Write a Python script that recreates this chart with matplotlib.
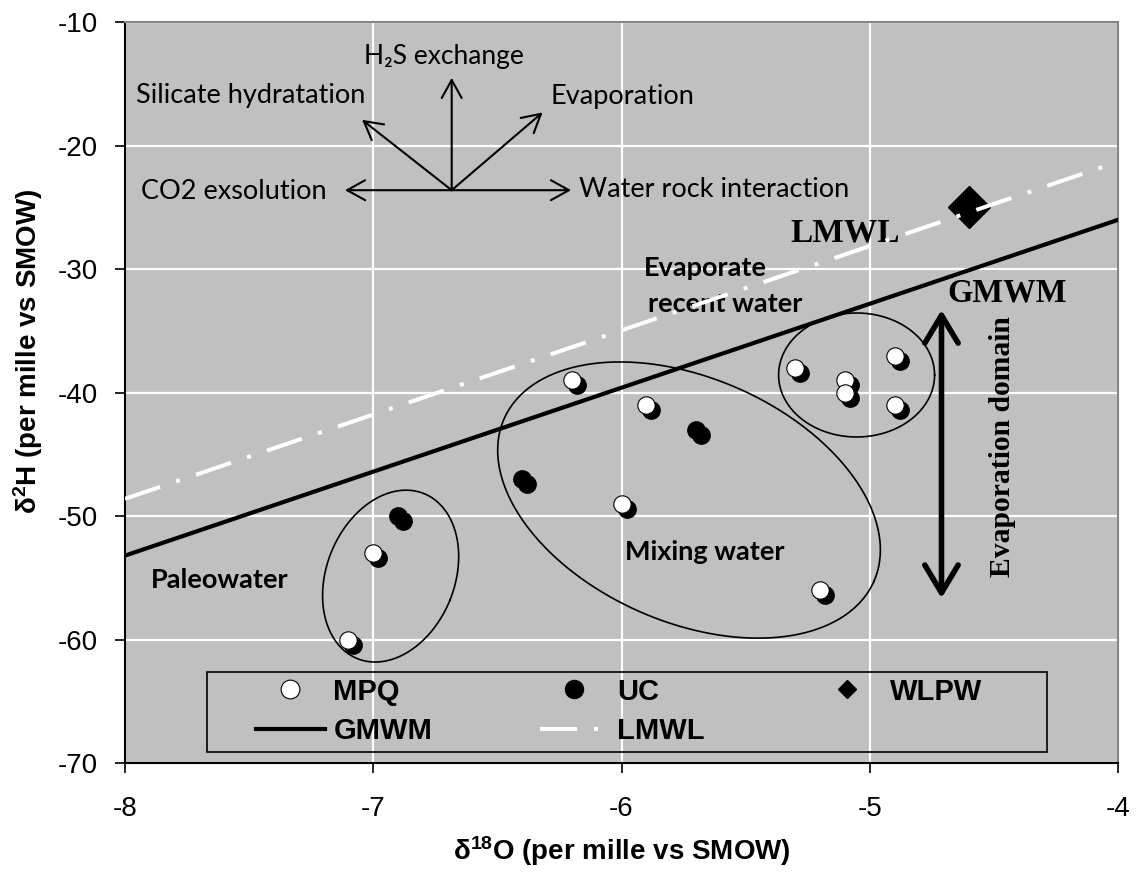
import numpy as np
import matplotlib
matplotlib.use("Agg")
import matplotlib.pyplot as plt
from matplotlib import transforms
from matplotlib.lines import Line2D
from matplotlib.patches import Rectangle, FancyArrowPatch, ArrowStyle

plt.rcParams['font.family'] = ['Liberation Sans', 'DejaVu Sans']
plt.rcParams['axes.unicode_minus'] = False
plt.rcParams['mathtext.default'] = 'regular'

# isotope data (delta 18O, delta 2H)
mpq_x = [-7.1, -7.0, -6.2, -6.0, -5.9, -5.3, -5.2, -5.1, -5.1, -4.9, -4.9]
mpq_y = [-60, -53, -39, -49, -41, -38, -56, -39, -40, -37, -41]
uc_x = [-6.9, -6.4, -5.7]
uc_y = [-50, -47, -43]
wlpw_x = [-4.6]
wlpw_y = [-25]

# meteoric water lines, end points over the plotted range
line_x = [-8, -4]
gmwm_y = [-53.2, -26.0]
lmwl_y = [-48.6, -21.3]

x_ticks = [-8, -7, -6, -5, -4]
y_ticks = [-70, -60, -50, -40, -30, -20, -10]

W, H, DPI = 11.4, 8.74, 100
fig = plt.figure(figsize=(W, H), dpi=DPI)
ax_rect = [125 / 1140, 111 / 874, 993 / 1140, 740.7 / 874]
ax = fig.add_axes(ax_rect)
ax.set_facecolor('#C0C0C0')
ax.set_xlim(-8, -4)
ax.set_ylim(-70, -10)

# pixels per data unit, used to draw the hand-made ellipses
px_x = ax_rect[2] * W * DPI / 4.0
px_y = ax_rect[3] * H * DPI / 60.0

ax.set_xticks(x_ticks)
ax.set_yticks(y_ticks)
ax.grid(True, color='white', lw=1.6)
ax.set_axisbelow(True)
ax.tick_params(axis='both', direction='out', length=7.5, width=1.2,
               labelsize=20, colors='black')
ax.tick_params(axis='x', pad=16)
ax.tick_params(axis='y', pad=12)
for side in ('left', 'bottom'):
    ax.spines[side].set_color('black')
    ax.spines[side].set_linewidth(1.5)
for side in ('top', 'right'):
    ax.spines[side].set_color('#858585')
    ax.spines[side].set_linewidth(1.5)

ax.set_xlabel(r'δ$^{18}$O (per mille vs SMOW)', fontsize=20, fontweight='bold',
              va='center')
ax.set_ylabel(r'δ$^{2}$H (per mille vs SMOW)', fontsize=20, fontweight='bold',
              va='center')
ax.xaxis.set_label_coords(0.5, -0.119)
ax.yaxis.set_label_coords(-0.098, 0.556)

# water lines
ax.plot(line_x, gmwm_y, color='black', lw=3, zorder=3)
ax.plot(line_x, lmwl_y, color='white', lw=2.9, dashes=(9.2, 4.2, 1, 4.2),
        dash_capstyle='butt', zorder=6)

# markers with a dark drop shadow
shadow = transforms.offset_copy(ax.transData, fig=fig, x=5, y=-5, units='dots')
ax.plot(mpq_x, mpq_y, ls='none', marker='o', ms=12.5, color='black',
        transform=shadow, zorder=4)
ax.plot(uc_x, uc_y, ls='none', marker='o', ms=12.5, color='black',
        transform=shadow, zorder=4)
ax.plot(mpq_x, mpq_y, ls='none', marker='o', ms=12.5, mfc='white',
        mec='black', mew=0.8, zorder=5)
ax.plot(uc_x, uc_y, ls='none', marker='o', ms=12.5, color='black', zorder=5)
ax.plot(wlpw_x, wlpw_y, ls='none', marker='D', ms=21, color='black', zorder=5)


def ellipse_xy(cx, cy, a, b, tilt):
    t = np.linspace(0, 2 * np.pi, 300)
    ex, ey = a * np.cos(t), b * np.sin(t)
    c, s = np.cos(np.radians(tilt)), np.sin(np.radians(tilt))
    return cx + (ex * c - ey * s) / px_x, cy + (ex * s + ey * c) / px_y


for cx, cy, a, b, tilt in [(-6.93, -54.86, 64, 89, -22),
                           (-5.728, -48.70, 202, 122, -23.7),
                           (-5.053, -38.57, 78, 62, 0)]:
    ex, ey = ellipse_xy(cx, cy, a, b, tilt)
    ax.plot(ex, ey, color='black', lw=1.2, zorder=3)

# process arrows
star = (-6.684, -23.6)
tips = [(-6.684, -14.5), (-7.045, -17.9), (-6.318, -17.3),
        (-7.114, -23.6), (-6.203, -23.6)]
for tip in tips:
    ax.annotate('', xy=tip, xytext=star,
                arrowprops=dict(arrowstyle='->,head_length=0.65,head_width=0.36',
                                mutation_scale=20, lw=1.5, color='black',
                                shrinkA=0, shrinkB=0))

sans = ['Lato', 'DejaVu Sans']
serif = ['Liberation Serif', 'DejaVu Serif']
ax.text(-6.717, -12.8, 'H₂S exchange', family=sans, fontsize=19,
        ha='center', va='center')
ax.text(-7.956, -15.97, 'Silicate hydratation', family=sans, fontsize=19.5,
        ha='left', va='center')
ax.text(-6.288, -16.05, 'Evaporation', family=sans, fontsize=19.5,
        ha='left', va='center')
ax.text(-7.936, -23.67, 'CO2 exsolution', family=sans, fontsize=19.5,
        ha='left', va='center')
ax.text(-6.171, -23.58, 'Water rock interaction', family=sans, fontsize=19.5,
        ha='left', va='center')
ax.text(-5.909, -29.9, 'Evaporate', family=sans, fontsize=19.5,
        fontweight='bold', ha='left', va='center')
ax.text(-5.895, -32.8, 'recent water', family=sans, fontsize=19.5,
        fontweight='bold', ha='left', va='center')
ax.text(-5.666, -52.88, 'Mixing water', family=sans, fontsize=19.5,
        fontweight='bold', ha='center', va='center')
ax.text(-7.617, -55.18, 'Paleowater', family=sans, fontsize=19.5,
        fontweight='bold', ha='center', va='center')
ax.text(-5.10, -27.03, 'LMWL', family=serif, fontsize=24,
        fontweight='bold', ha='center', va='center')
ax.text(-4.445, -31.93, 'GMWM', family=serif, fontsize=23.5,
        fontweight='bold', ha='center', va='center')
ax.text(-4.467, -44.4, 'Evaporation domain', family=serif, fontsize=21.3,
        fontweight='bold', ha='center', va='center', rotation=90)

# evaporation domain double arrow
evap = FancyArrowPatch((-4.711, -56.65), (-4.711, -33.3),
                       arrowstyle=ArrowStyle('<->', head_length=20, head_width=12),
                       mutation_scale=1, lw=4, color='black',
                       shrinkA=0, shrinkB=0, zorder=5)
ax.add_patch(evap)

# legend
h_mpq = Line2D([], [], ls='none', marker='o', ms=13.5, mfc='white',
               mec='black', mew=0.8)
h_uc = Line2D([], [], ls='none', marker='o', ms=13, color='black')
h_wl = Line2D([], [], ls='none', marker='D', ms=9.5, color='black')
h_gm = Line2D([], [], color='black', lw=3)
h_lm = Line2D([], [], color='white', lw=2.9, dashes=(9.2, 4.2, 1, 4.2))
ax.legend([h_mpq, h_gm, h_uc, h_lm, h_wl],
          ['MPQ', 'GMWM', 'UC', 'LMWL', 'WLPW'],
          ncol=3, loc='center left', bbox_to_anchor=(0.132, 0.0695),
          frameon=False, borderpad=0, borderaxespad=0,
          prop={'size': 21, 'weight': 'bold'},
          handlelength=2.35, handletextpad=0.3, columnspacing=3.7,
          labelspacing=0.4)
ax.add_patch(Rectangle((0.0829, 0.0153), 0.8453, 0.108, transform=ax.transAxes,
                       fill=False, ec='black', lw=1.2, zorder=6))

fig.savefig('out.png', dpi=DPI)
